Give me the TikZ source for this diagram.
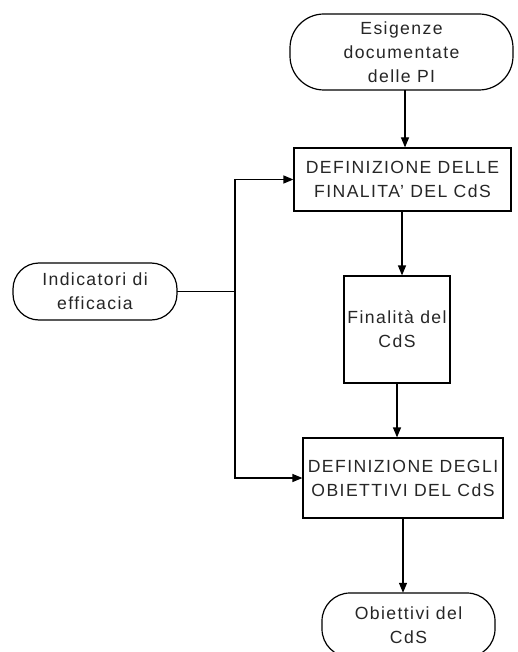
\documentclass[tikz,border=0pt]{standalone}
\usepackage{fontspec}
\setmainfont{Liberation Sans}[LetterSpace=8]
\usetikzlibrary{arrows.meta}
\begin{document}
\begin{tikzpicture}[x=1pt,y=-1pt,
  every node/.style={font=\fontsize{17.6}{24}\selectfont, align=center, inner sep=0pt, text=black!85},
  proc/.style={draw, line width=1.2pt, fill=white},
  term/.style={draw, line width=1.2pt, fill=white},
  conn/.style={line width=1.2pt},
  arr/.style={conn, -{Triangle[width=8pt,length=10pt]}}]
\useasboundingbox (0,0) rectangle (518,652);
\clip (0,0) rectangle (518,652);
\fill[white] (0,0) rectangle (518,652);
% terminals
\draw[term, rounded corners=34] (290,14) rectangle (513,90);
\node (esig) at (401.5,52) [minimum width=223pt, minimum height=76pt] {Esigenze\\documentate\\delle PI};
\draw[term, rounded corners=26] (13,263) rectangle (177,320);
\node (ind) at (95,291.5) [minimum width=164pt, minimum height=57pt] {Indicatori di\\efficacia};
\draw[term, rounded corners=28] (322,593) rectangle (495,657);
\node (obi) at (408.5,625) [minimum width=173pt, minimum height=64pt] {Obiettivi del\\CdS};
% process boxes
\node[proc, minimum width=217pt, minimum height=63pt] (def1) at (402.5,179.5) {DEFINIZIONE DELLE\\FINALITA' DEL CdS};
\node[proc, minimum width=106pt, minimum height=107pt] (fin) at (397,329.5) {Finalità del\\CdS};
\node[proc, minimum width=200pt, minimum height=80pt] (def2) at (403,478) {DEFINIZIONE DEGLI\\OBIETTIVI DEL CdS};
% connectors
\draw[arr] (esig.south -| 405,0) -- (def1.north -| 405,0);
\draw[arr] (def1.south -| 402,0) -- (fin.north -| 402,0);
\draw[arr] (fin.south -| 397,0) -- (def2.north -| 397,0);
\draw[arr] (def2.south -| 403,0) -- (obi.north -| 403,0);
\coordinate (j) at (235,291.5);
\draw[conn] (ind.east) -- (j);
\draw[arr] (j) |- (def1.west);
\draw[arr] (j) |- (def2.west);
\end{tikzpicture}
\end{document}
